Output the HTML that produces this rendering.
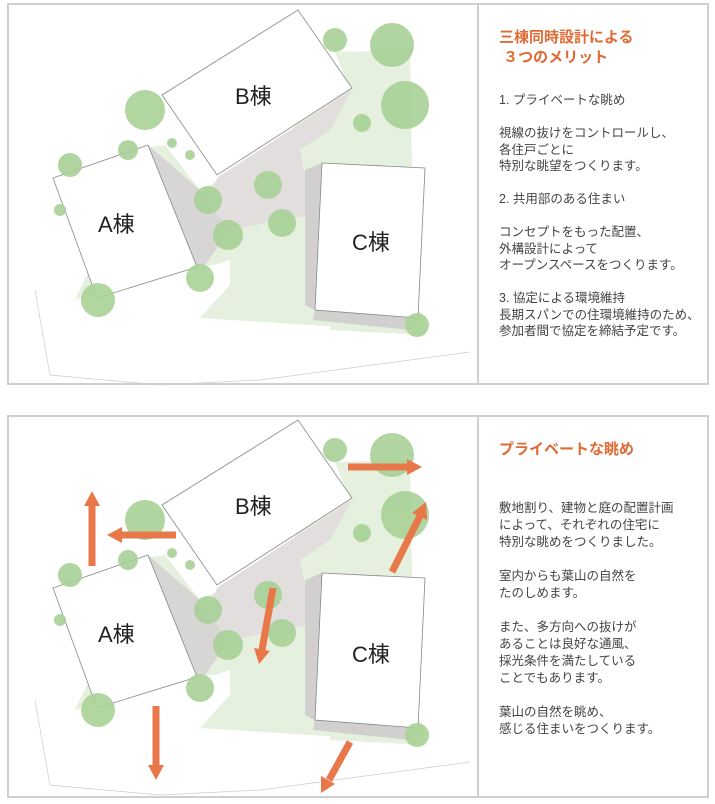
<!DOCTYPE html>
<html><head><meta charset="utf-8"><style>
body{margin:0;background:#fff;width:715px;height:804px;overflow:hidden;font-family:"Liberation Sans","Noto Sans CJK JP",sans-serif}
.p{position:absolute;left:7px;width:702px;border:2px solid #cfcfcf;box-sizing:border-box}
.d{position:absolute;left:477px;width:2px;background:#cfcfcf}
.t{position:absolute;left:499px;color:#444;font-size:12.5px;line-height:16.5px;white-space:pre}
.h{position:absolute;left:499px;color:#e06a34;font-size:15px;font-weight:bold;line-height:20px;white-space:pre}
svg{position:absolute;left:0;top:0}
</style></head><body>
<div class="p" style="top:3px;height:382px"></div>
<div class="d" style="top:3px;height:382px"></div>
<div class="p" style="top:415px;height:383px"></div>
<div class="d" style="top:415px;height:383px"></div>
<svg width="715" height="804">
<defs>
<g id="site">
<polygon points="75,300 150,270 215,265 230,260 230,285 330,320 330,330 425,335 425,320 413,300 412,165 410,50 335,52 350,90 300,120 270,155 200,190 165,145 130,150 80,170 70,180 120,175 145,150" fill="#e6f0df"/>
<polygon points="230,285 420,312 420,332 200,318" fill="#e6f0df"/>
<polygon points="148,145 200,190 230,230 205,265 180,270" fill="#d8d5d5"/>
<polygon points="218,177 352,90 330,130 300,150 305,175 310,215 270,222 230,230 205,200" fill="#e2dede"/>
<polygon points="305,170 322,163 315,310 305,305" fill="#d2cfcf"/>
<polygon points="315,310 418,318 410,330 313,320" fill="#d2cfcf"/>
<polygon points="162,95 298,10 352,88 217,175" fill="#fff" stroke="#888" stroke-width=".8"/>
<polygon points="53,178 148,145 197,267 97,298" fill="#fff" stroke="#888" stroke-width=".8"/>
<polygon points="322,163 425,168 418,318 315,310" fill="#fff" stroke="#888" stroke-width=".8"/>
<g fill="#a9d196" opacity=".9">
<circle cx="392" cy="45" r="22"/><circle cx="405" cy="105" r="24"/><circle cx="145" cy="110" r="20"/><circle cx="335" cy="40" r="12"/>
<circle cx="70" cy="165" r="12"/><circle cx="60" cy="210" r="6"/><circle cx="208" cy="200" r="14"/><circle cx="268" cy="185" r="14"/>
<circle cx="228" cy="235" r="15"/><circle cx="282" cy="223" r="14"/><circle cx="200" cy="278" r="14"/><circle cx="98" cy="300" r="17"/>
<circle cx="417" cy="325" r="12"/><circle cx="362" cy="123" r="9"/><circle cx="128" cy="150" r="10"/><circle cx="172" cy="143" r="5"/><circle cx="190" cy="155" r="5"/>
</g>
<polyline points="35,290 50,375 160,385 260,380 470,352" fill="none" stroke="#ccc" stroke-width=".7"/>
</g>
</defs>
<use href="#site"/>
<use href="#site" y="410"/>
<g font-size="22" fill="#222">
<text x="235" y="104">B棟</text><text x="98" y="232">A棟</text><text x="352" y="250">C棟</text>
<text x="235" y="514">B棟</text><text x="98" y="642">A棟</text><text x="352" y="662">C棟</text>
</g>
<g stroke="#e8784a" stroke-width="7" fill="#e8784a">
<line x1="92" y1="566" x2="92" y2="505"/><polygon points="84,506 100,506 92,491" stroke="none"/>
<line x1="176" y1="535" x2="121" y2="535"/><polygon points="122,527 122,543 107,535" stroke="none"/>
<line x1="348" y1="467" x2="408" y2="467"/><polygon points="407,459 407,475 422,467" stroke="none"/>
<line x1="392" y1="572" x2="420" y2="516"/><polygon points="412,513 427,520 426,502" stroke="none"/>
<line x1="273" y1="588" x2="262" y2="650"/><polygon points="254,648 270,651 259,664" stroke="none"/>
<line x1="156" y1="706" x2="156" y2="766"/><polygon points="148,765 164,765 156,780" stroke="none"/>
<line x1="350" y1="742" x2="329" y2="780"/><polygon points="321,776 335,784 321,793" stroke="none"/>
</g>
</svg>
<div class="h" style="top:28px">三棟同時設計による
 ３つのメリット</div>
<div class="t" style="top:92px">1. プライベートな眺め

視線の抜けをコントロールし、
各住戸ごとに
特別な眺望をつくります。

2. 共用部のある住まい

コンセプトをもった配置、
外構設計によって
オープンスペースをつくります。

3. 協定による環境維持
長期スパンでの住環境維持のため、
参加者間で協定を締結予定です。</div>
<div class="h" style="top:440px">プライベートな眺め</div>
<div class="t" style="top:500px;line-height:17px">敷地割り、建物と庭の配置計画
によって、それぞれの住宅に
特別な眺めをつくりました。

室内からも葉山の自然を
たのしめます。

また、多方向への抜けが
あることは良好な通風、
採光条件を満たしている
ことでもあります。

葉山の自然を眺め、
感じる住まいをつくります。</div>
</body></html>
